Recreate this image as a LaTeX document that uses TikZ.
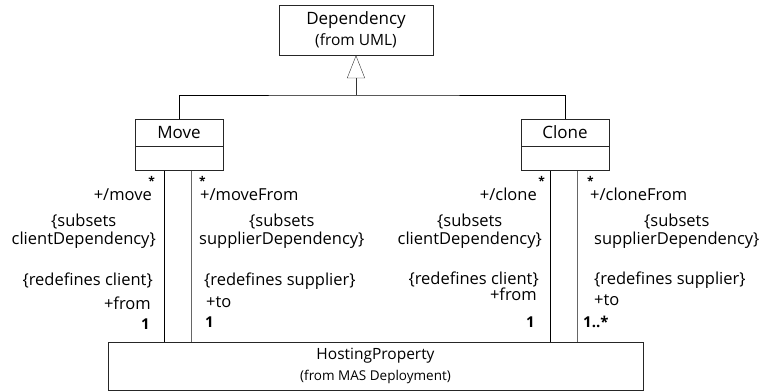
\documentclass[tikz,border=0pt]{standalone}
\usepackage{fontspec}
\setmainfont{Open Sans}
\usetikzlibrary{arrows.meta, positioning}

\begin{document}
\begin{tikzpicture}[x=1pt, y=-1pt,
    cls/.style={rectangle, draw=black!85, minimum width=88pt, minimum height=27pt,
                inner sep=0pt, font=\fontsize{17}{20}\selectfont},
    clsbody/.style={rectangle, draw=black!85, minimum width=88pt, minimum height=24pt, inner sep=0pt},
    pkg/.style={rectangle, draw=black!85, inner sep=0pt, align=center, font=\fontsize{17}{21}\selectfont},
    lbl/.style={inner sep=0pt, align=center, font=\fontsize{16.5}{18}\selectfont},
    mult/.style={inner sep=0pt, font=\bfseries\fontsize{15}{18}\selectfont},
    star/.style={inner sep=0pt, font=\bfseries\fontsize{12}{12}\selectfont},
    assoc/.style={draw=black},
    suppl/.style={draw=black!60},
    gen/.style={-{Triangle[open, length=23pt, width=18pt]}, draw=black!80}
]
\useasboundingbox (0,0) rectangle (766,391);

\node[pkg, minimum width=154pt, minimum height=50pt] (dep) at (356,30)
    {Dependency\\{\fontsize{15.5}{15.5}\selectfont(from UML)}};

\node[cls] (move) at (179,132.5) {Move};
\node[clsbody, below=0pt of move] (movebody) {};
\node[cls] (clone) at (565,132.5) {Clone};
\node[clsbody, below=0pt of clone] (clonebody) {};

\node[pkg, minimum width=535pt, minimum height=48pt, font=\fontsize{15.5}{21}\selectfont] (host) at (375.5,366)
    {HostingProperty\\{\fontsize{13.5}{13.5}\selectfont(from MAS Deployment)}};

% generalization
\coordinate (fork) at (356,95);
\draw[assoc] (move.north) |- (fork) -| (clone.north);
\draw[gen] (fork) -- (dep.south);

% association ends
\path ([xshift=-15pt]movebody.south) coordinate (mvfrom)
      ([xshift=12pt]movebody.south) coordinate (mvto)
      ([xshift=-15pt]clonebody.south) coordinate (clfrom)
      ([xshift=12pt]clonebody.south) coordinate (clto);
\draw[assoc] (mvfrom) -- (mvfrom |- host.north);
\draw[suppl] (mvto) -- (mvto |- host.north);
\draw[assoc] (clfrom) -- (clfrom |- host.north);
\draw[suppl] (clto) -- (clto |- host.north);

% Move, client side
\node[star, anchor=north east] (mvcstar) at (155,176) {*};
\node[lbl, anchor=mid east] (mvcrole) at (152,198) {+/move};
\node[lbl, anchor=east] (mvcsub) at (156,231) {\{subsets\\clientDependency\}};
\node[lbl, anchor=mid east] (mvcred) at (153,283) {\{redefines client\}};
\node[lbl, anchor=mid east] (mvcend) at (151,307) {+from};
\node[mult, anchor=mid east] (mvcone) at (150,327) {1};

% Move, supplier side
\node[star, anchor=north west] (mvsstar) at (199,176) {*};
\node[lbl, anchor=mid west] (mvsrole) at (200,198) {+/moveFrom};
\node[lbl, anchor=west] (mvssub) at (199,231) {\{subsets\\supplierDependency\}};
\node[lbl, anchor=mid west] (mvsred) at (204,283) {\{redefines supplier\}};
\node[lbl, anchor=mid west] (mvsend) at (206,305) {+to};
\node[mult, anchor=mid west] (mvsone) at (205,325) {1};

% Clone, client side
\node[star, anchor=north east] (clcstar) at (545,176) {*};
\node[lbl, anchor=mid east] (clcrole) at (537,198) {+/clone};
\node[lbl, anchor=east] (clcsub) at (542,231) {\{subsets\\clientDependency\}};
\node[lbl, anchor=mid east] (clcred) at (539,282) {\{redefines client\}};
\node[lbl, anchor=mid east] (clcend) at (537,298) {+from};
\node[mult, anchor=mid east] (clcone) at (535,325) {1};

% Clone, supplier side
\node[star, anchor=north west] (clsstar) at (587,176) {*};
\node[lbl, anchor=mid west] (clsrole) at (590,198) {+/cloneFrom};
\node[lbl, anchor=west] (clssub) at (594,231) {\{subsets\\supplierDependency\}};
\node[lbl, anchor=mid west] (clsred) at (594,282) {\{redefines supplier\}};
\node[lbl, anchor=mid west] (clsend) at (594,303) {+to};
\node[mult, anchor=mid west] (clsmany) at (583,325) {1..*};
\end{tikzpicture}
\end{document}
